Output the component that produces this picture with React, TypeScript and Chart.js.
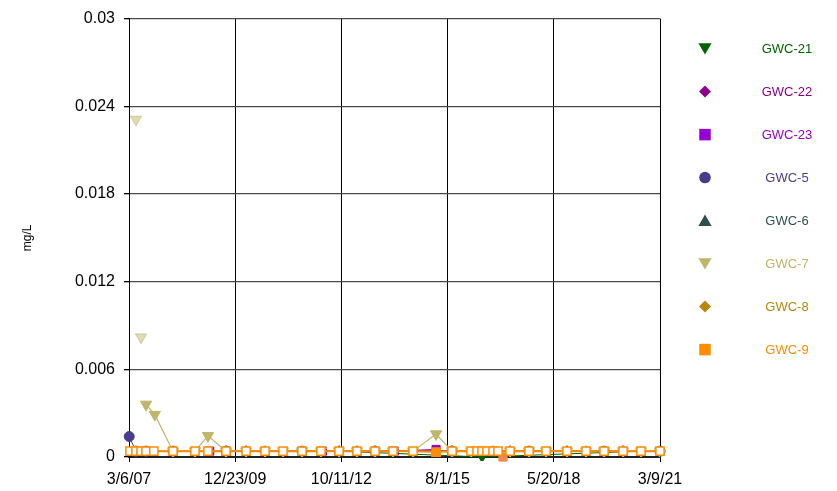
import { useEffect, useRef } from 'react';
import { Chart, registerables } from 'chart.js';

Chart.register(...registerables);

// ---- axis ticks ----
const tickDates = ['2007-03-06', '2009-12-23', '2012-10-11', '2015-08-01', '2018-05-20', '2021-03-09'];
const yTickValues = [0, 0.006, 0.012, 0.018, 0.024, 0.03];

// ---- GWC-9 ----
const gwc9Dates = [
  '2007-03-16', '2007-05-12', '2007-06-30', '2007-08-17', '2007-10-31', '2008-05-03', '2008-12-01',
  '2009-04-05', '2009-09-26', '2010-04-07', '2010-10-07', '2011-03-29', '2011-09-28', '2012-03-29',
  '2012-09-19', '2013-03-11', '2013-09-01', '2014-02-21', '2014-09-02', '2015-04-12', '2015-09-13',
  '2016-03-14', '2016-05-11', '2016-06-28', '2016-08-15', '2016-10-12', '2016-11-29',
  '2017-03-25', '2017-09-24', '2018-03-07', '2018-09-25', '2019-03-27', '2019-09-17', '2020-03-18',
  '2020-09-07', '2021-03-09',
];
const gwc9Values = [
  0.0004, 0.0004, 0.0004, 0.0004, 0.0004, 0.0004, 0.0004,
  0.0004, 0.0004, 0.0004, 0.0004, 0.0004, 0.0004, 0.0004,
  0.0004, 0.0004, 0.0004, 0.0004, 0.0004, 0.00034, 0.0004,
  0.0004, 0.0004, 0.0004, 0.0004, 0.0004, 0.0004,
  0.0004, 0.0004, 0.0004, 0.0004, 0.0004, 0.0004, 0.0004,
  0.0004, 0.0004,
];
const gwc9Detected = [
  false, false, false, false, false, false, false,
  false, false, false, false, false, false, false,
  false, false, false, false, false, true, false,
  false, false, false, false, false, false,
  false, false, false, false, false, false, false,
  false, false,
];
const gwc9LowDates = ['2017-01-16'];
const gwc9LowValues = [0.0];

// ---- GWC-7 ----
const gwc7Dates = [
  '2007-08-17', '2007-11-10', '2008-05-03', '2008-12-01', '2009-04-05', '2009-09-26', '2010-04-07',
  '2010-10-07', '2011-03-29', '2011-09-28', '2012-03-29', '2012-09-19', '2013-03-11', '2013-09-01',
  '2014-02-21', '2014-09-02', '2015-04-12', '2015-09-13', '2016-03-14', '2017-03-25', '2017-09-24',
  '2018-03-07', '2018-09-25', '2019-03-27', '2019-09-17', '2020-03-18', '2020-09-07', '2021-03-09',
];
const gwc7Values = [
  0.0036, 0.0029, 0.0004, 0.0004, 0.00145, 0.0004, 0.0004,
  0.0004, 0.0004, 0.0004, 0.0004, 0.0004, 0.0004, 0.0004,
  0.0004, 0.0004, 0.00157, 0.0004, 0.0004, 0.0004, 0.0004,
  0.0004, 0.0004, 0.0004, 0.0004, 0.0004, 0.0004, 0.0004,
];
const gwc7Detected = [
  true, true, false, false, true, false, false,
  false, false, false, false, false, false, false,
  false, false, true, false, false, false, false,
  false, false, false, false, false, false, false,
];
const gwc7OutlierDates = ['2007-05-12', '2007-06-30'];
const gwc7OutlierValues = [0.0231, 0.0082];

// ---- GWC-5 ----
const gwc5Dates = ['2007-03-08', '2007-05-12', '2007-08-17', '2008-05-03', '2009-09-26', '2011-09-28', '2013-09-01', '2015-09-13', '2017-09-24', '2019-09-17', '2021-03-09'];
const gwc5Values = [0.0014, 0.0004, 0.0004, 0.0004, 0.0004, 0.0004, 0.0004, 0.0004, 0.0004, 0.0004, 0.0004];

// ---- GWC-21 / 22 / 23 / 6 / 8 ----
const gwc21Dates = ['2012-09-19', '2016-06-28', '2020-09-07'];
const gwc21Values = [0.0004, 0.0, 0.0004];
const gwc22Dates = ['2010-04-07', '2013-03-11', '2017-03-25', '2020-03-18'];
const gwc22Values = [0.0004, 0.0004, 0.0004, 0.0004];
const gwc23Dates = ['2009-04-22', '2012-04-12', '2014-03-05', '2015-04-12'];
const gwc23Values = [0.0004, 0.0004, 0.0004, 0.00052];
const gwc6Dates = ['2009-09-26', '2012-09-19', '2015-09-13', '2018-09-25'];
const gwc6Values = [0.0004, 0.0004, 0.0004, 0.0004];
const gwc8Dates = ['2010-10-07', '2013-09-01', '2016-10-12', '2019-03-27'];
const gwc8Values = [0.0004, 0.0004, 0.0004, 0.0004];

const seriesNames = ['GWC-21', 'GWC-22', 'GWC-23', 'GWC-5', 'GWC-6', 'GWC-7', 'GWC-8', 'GWC-9'];
const seriesColors = ['#006400', '#8b008b', '#9400d3', '#483d8b', '#2f4f4f', '#bdb76b', '#b8860b', '#ff8c00'];
const seriesShapes = ['triangleDown', 'diamond', 'square', 'circle', 'triangle', 'triangleDown', 'diamond', 'square'];

const toMs = (s: string) => {
  const [y, m, d] = s.split('-').map(Number);
  return Date.UTC(y, m - 1, d);
};
const pts = (dates: string[], vals: number[]) => dates.map((d, i) => ({ x: toMs(d), y: vals[i] }));

const FONT = '"Liberation Sans", Arial, Helvetica, sans-serif';

function drawShape(ctx: CanvasRenderingContext2D, shape: string, x: number, y: number, s: number) {
  ctx.beginPath();
  if (shape === 'triangleDown') {
    ctx.moveTo(x - s * 0.55, y - s * 0.45);
    ctx.lineTo(x + s * 0.55, y - s * 0.45);
    ctx.lineTo(x, y + s * 0.5);
  } else if (shape === 'triangle') {
    ctx.moveTo(x - s * 0.55, y + s * 0.45);
    ctx.lineTo(x + s * 0.55, y + s * 0.45);
    ctx.lineTo(x, y - s * 0.5);
  } else if (shape === 'diamond') {
    ctx.moveTo(x, y - s * 0.5);
    ctx.lineTo(x + s * 0.5, y);
    ctx.lineTo(x, y + s * 0.5);
    ctx.lineTo(x - s * 0.5, y);
  } else if (shape === 'square') {
    ctx.rect(x - s * 0.48, y - s * 0.48, s * 0.96, s * 0.96);
  } else {
    ctx.arc(x, y, s * 0.48, 0, Math.PI * 2);
  }
  ctx.closePath();
  ctx.fill();
}

const sideLegend = {
  id: 'sideLegend',
  afterDraw(chart: any) {
    const { ctx, chartArea } = chart;
    ctx.save();
    seriesNames.forEach((name, i) => {
      const y = chartArea.top + 30 + i * 43;
      const mx = chartArea.right + 45;
      ctx.fillStyle = seriesColors[i];
      drawShape(ctx, seriesShapes[i], mx, y, 12);
      ctx.font = `13px ${FONT}`;
      ctx.textAlign = 'center';
      ctx.textBaseline = 'middle';
      ctx.fillText(name, chartArea.right + 127, y + 1);
    });
    ctx.restore();
  },
};

export default function App() {
  const ref = useRef<HTMLCanvasElement | null>(null);
  useEffect(() => {
    if (!ref.current) return;
    Chart.defaults.font.family = FONT;
    Chart.defaults.color = '#000';
    const hollow = (flags: boolean[], color: string) => flags.map((f) => (f ? color : '#ffffff'));
    const allHollow = (n: number) => new Array(n).fill('#ffffff');
    const chart = new Chart(ref.current, {
      type: 'line',
      data: {
        datasets: [
          {
            label: 'GWC-9',
            data: pts(gwc9Dates, gwc9Values),
            borderColor: '#ff8c00',
            borderWidth: 2,
            pointStyle: 'rect',
            pointRadius: 5.8,
            pointBorderWidth: 1.5,
            pointBorderColor: '#ff8c00',
            pointBackgroundColor: hollow(gwc9Detected, '#ff8c00'),
            order: 0,
            clip: false,
          },
          {
            label: 'GWC-9 low',
            data: pts(gwc9LowDates, gwc9LowValues),
            showLine: false,
            pointStyle: 'rect',
            pointRadius: 5.8,
            pointBorderWidth: 1,
            pointBorderColor: '#f4874b',
            pointBackgroundColor: '#f4874b',
            order: 1,
            clip: false,
          },
          {
            label: 'GWC-7',
            data: pts(gwc7Dates, gwc7Values),
            borderColor: '#bdb76b',
            borderWidth: 1.2,
            pointStyle: 'triangle',
            pointRotation: 180,
            pointRadius: 6.5,
            pointBorderWidth: 1,
            pointBorderColor: '#bdb76b',
            pointBackgroundColor: hollow(gwc7Detected, '#bdb76b'),
            order: 2,
          },
          {
            label: 'GWC-7 outliers',
            data: pts(gwc7OutlierDates, gwc7OutlierValues),
            showLine: false,
            pointStyle: 'triangle',
            pointRotation: 180,
            pointRadius: 6.5,
            pointBorderWidth: 1,
            pointBorderColor: 'rgba(189,183,107,0.6)',
            pointBackgroundColor: 'rgba(189,183,107,0.5)',
            order: 3,
          },
          {
            label: 'GWC-5',
            data: pts(gwc5Dates, gwc5Values),
            borderColor: '#483d8b',
            borderWidth: 1,
            pointStyle: 'circle',
            pointRadius: 5,
            pointBorderColor: '#483d8b',
            pointBackgroundColor: gwc5Values.map((v, i) => (i === 0 ? '#483d8b' : '#ffffff')),
            order: 4,
            clip: false,
          },
          {
            label: 'GWC-21',
            data: pts(gwc21Dates, gwc21Values),
            borderColor: '#006400',
            borderWidth: 1,
            pointStyle: 'triangle',
            pointRotation: 180,
            pointRadius: 5.5,
            pointBorderColor: '#006400',
            pointBackgroundColor: '#006400',
            order: 5,
            clip: { left: 0, top: 0, right: 0, bottom: 4 },
          },
          {
            label: 'GWC-22',
            data: pts(gwc22Dates, gwc22Values),
            borderColor: '#8b008b',
            borderWidth: 1,
            pointStyle: 'rectRot',
            pointRadius: 5.5,
            pointBorderColor: '#8b008b',
            pointBackgroundColor: allHollow(gwc22Values.length),
            order: 6,
          },
          {
            label: 'GWC-23',
            data: pts(gwc23Dates, gwc23Values),
            borderColor: '#9400d3',
            borderWidth: 1,
            pointStyle: 'rect',
            pointRadius: 5.7,
            pointBorderColor: '#9400d3',
            pointBackgroundColor: '#9400d3',
            order: 7,
          },
          {
            label: 'GWC-6',
            data: pts(gwc6Dates, gwc6Values),
            borderColor: '#2f4f4f',
            borderWidth: 1,
            pointStyle: 'triangle',
            pointRadius: 5.5,
            pointBorderColor: '#2f4f4f',
            pointBackgroundColor: allHollow(gwc6Values.length),
            order: 8,
          },
          {
            label: 'GWC-8',
            data: pts(gwc8Dates, gwc8Values),
            borderColor: '#b8860b',
            borderWidth: 1,
            pointStyle: 'rectRot',
            pointRadius: 5.5,
            pointBorderColor: '#b8860b',
            pointBackgroundColor: allHollow(gwc8Values.length),
            order: 9,
          },
        ],
      },
      options: {
        animation: false,
        responsive: false,
        maintainAspectRatio: false,
        layout: { padding: { left: 0, right: 177, top: 17, bottom: 0 } },
        plugins: { legend: { display: false }, tooltip: { enabled: false } },
        elements: { line: { tension: 0 } },
        scales: {
          x: {
            type: 'linear',
            min: toMs(tickDates[0]),
            max: toMs(tickDates[tickDates.length - 1]),
            afterBuildTicks: (scale: any) => {
              scale.ticks = tickDates.map((d) => ({ value: toMs(d) }));
            },
            afterFit: (scale: any) => {
              scale.height = 34;
            },
            ticks: {
              autoSkip: false,
              maxRotation: 0,
              padding: 8,
              font: { size: 16, family: FONT },
              color: '#000',
              callback: (v: any) => {
                const d = new Date(Number(v));
                const yy = String(d.getUTCFullYear() % 100).padStart(2, '0');
                return `${d.getUTCMonth() + 1}/${d.getUTCDate()}/${yy}`;
              },
            },
            grid: { color: '#000', lineWidth: 1, tickLength: 5, tickColor: '#000' },
            border: { color: '#222', width: 2 },
          },
          y: {
            type: 'linear',
            min: 0,
            max: 0.03,
            afterBuildTicks: (scale: any) => {
              scale.ticks = yTickValues.map((v) => ({ value: v }));
            },
            afterFit: (scale: any) => {
              scale.width = 129;
            },
            ticks: {
              padding: 9,
              font: { size: 16, family: FONT },
              color: '#000',
              callback: (v: any) => String(Number(Number(v).toFixed(3))),
            },
            grid: { color: '#4a4a4a', lineWidth: 1.3, tickLength: 5, tickColor: '#000' },
            border: { color: '#000', width: 1 },
            title: {
              display: true,
              text: 'mg/L',
              color: '#000',
              font: { size: 12, family: FONT },
              padding: { top: 20, bottom: 0 },
            },
          },
        },
      },
      plugins: [sideLegend],
    });
    return () => chart.destroy();
  }, []);

  return (
    <div style={{ position: 'absolute', left: 0, top: 0, width: 837, height: 491, background: '#fff' }}>
      <canvas ref={ref} width={837} height={491} style={{ width: 837, height: 491 }} />
    </div>
  );
}
